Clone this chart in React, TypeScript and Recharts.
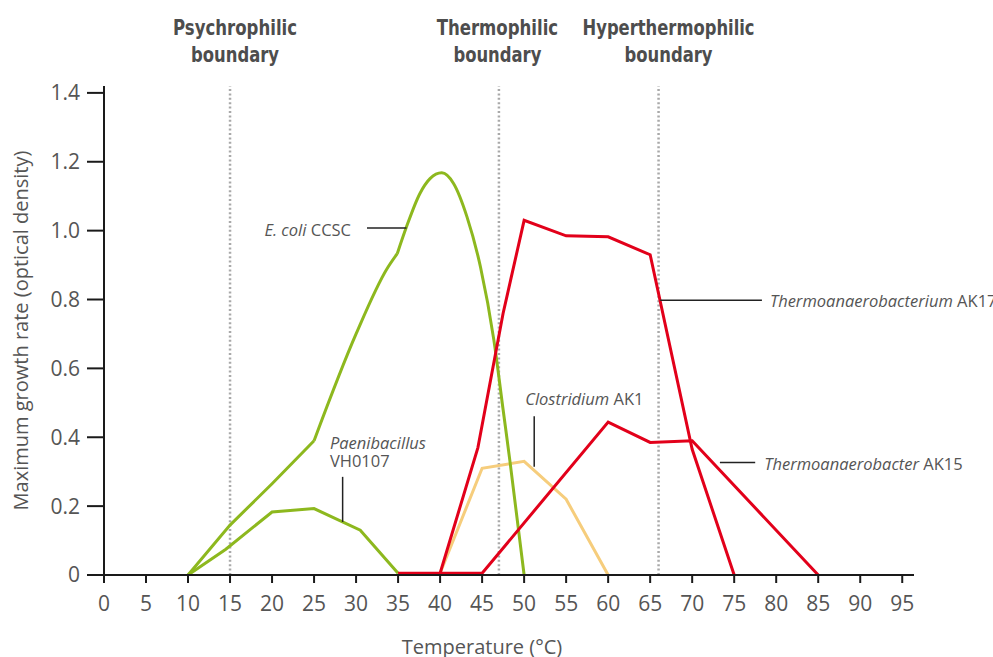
import React from 'react';
import { LineChart, Line, XAxis, YAxis, ReferenceLine, Label } from 'recharts';

// axis ticks
const tempTicks = [0, 5, 10, 15, 20, 25, 30, 35, 40, 45, 50, 55, 60, 65, 70, 75, 80, 85, 90, 95];
const rateTicks = [0, 0.2, 0.4, 0.6, 0.8, 1.0, 1.2, 1.4];

// series (temperature in °C, rate in optical density)
// E. coli is drawn in three pieces: straight rise, curved rise to the shoulder, smooth peak
const ecoliLowTemp = [10, 15, 20, 25];
const ecoliLowRate = [0, 0.145, 0.265, 0.39];
const ecoliMidTemp = [25, 30, 33.7, 34.9];
const ecoliMidRate = [0.39, 0.7, 0.89, 0.933];
const ecoliPeakTemp = [34.9, 36, 37.6, 38.8, 40.2, 41.6, 43.2, 44.8, 46.4, 47.5, 48.3, 50];
const ecoliPeakRate = [0.933, 1.011, 1.108, 1.151, 1.168, 1.137, 1.04, 0.895, 0.682, 0.48, 0.333, 0];

const paeniTemp = [10, 14.5, 20, 25, 30.5, 35];
const paeniRate = [0, 0.075, 0.183, 0.193, 0.13, 0.005];

const clostTemp = [40, 45, 50, 55, 60];
const clostRate = [0.005, 0.31, 0.33, 0.22, 0];

const ak17Temp = [35, 40, 44.5, 47.5, 50, 55, 60, 65, 70, 75];
const ak17Rate = [0.005, 0.005, 0.37, 0.76, 1.03, 0.985, 0.982, 0.93, 0.365, 0];

const ak15Temp = [40, 45, 60, 65, 70, 85];
const ak15Rate = [0.005, 0.005, 0.444, 0.385, 0.39, 0];

// boundary lines
const boundaryTemps = [15, 47, 66];
const boundaryNames = ['Psychrophilic', 'Thermophilic', 'Hyperthermophilic'];
const boundaryShift = [5, -1.5, 10];
const boundaryWidth = [124, 121.5, 172];

const GREEN = '#8db81e';
const RED = '#e2001a';
const SAND = '#f6cd7c';
const TEXT = '#555555';
const FONT = "'Open Sans', 'Noto Sans', sans-serif";
const HEAD_FONT = "'DejaVu Sans Condensed', 'DejaVu Sans', sans-serif";

const toPoints = (t: number[], r: number[]) => t.map((temp, i) => ({ temp, rate: r[i] }));

type Part = { t: string; i?: boolean };

// text attached to a leader line
const LeaderText = (props: any) => {
  const { viewBox, rows, anchor, dx, dy } = props;
  if (!viewBox) return null;
  const x0 = anchor === 'right' ? viewBox.x + viewBox.width : viewBox.x;
  return (
    <text
      x={x0 + dx}
      y={viewBox.y + dy}
      textAnchor={anchor === 'end' ? 'end' : 'start'}
      fontFamily={FONT}
      fontSize={16.5}
      fill={TEXT}
    >
      {rows.map((row: Part[], ri: number) => (
        <tspan key={ri} x={x0 + dx} dy={ri === 0 ? 0 : 18}>
          {row.map((p, pi) => (
            <tspan key={pi} fontStyle={p.i ? 'italic' : 'normal'}>
              {p.t}
            </tspan>
          ))}
        </tspan>
      ))}
    </text>
  );
};

const BoundaryLabel = (props: any) => {
  const { viewBox, name, shift, width } = props;
  if (!viewBox) return null;
  const cx = viewBox.x + shift;
  return (
    <text
      textAnchor="middle"
      fontFamily={HEAD_FONT}
      fontStretch="condensed"
      fontWeight="bold"
      fontSize={21.5}
      fill="#4d4d4d"
    >
      <tspan x={cx} y={viewBox.y - 51} textLength={width} lengthAdjust="spacingAndGlyphs">
        {name}
      </tspan>
      <tspan x={cx} y={viewBox.y - 24} textLength={88} lengthAdjust="spacingAndGlyphs">
        boundary
      </tspan>
    </text>
  );
};

const YTitle = (props: any) => {
  const { viewBox } = props;
  if (!viewBox) return null;
  const cx = 20;
  const cy = viewBox.y + viewBox.height / 2;
  return (
    <text
      x={cx}
      y={cy}
      transform={`rotate(-90 ${cx} ${cy})`}
      textAnchor="middle"
      dominantBaseline="central"
      fontFamily={FONT}
      fontSize={20}
      fill={TEXT}
    >
      Maximum growth rate (optical density)
    </text>
  );
};

const XTitle = (props: any) => {
  const { viewBox } = props;
  if (!viewBox) return null;
  return (
    <text
      x={viewBox.x + viewBox.width / 2 - 27}
      y={654}
      textAnchor="middle"
      fontFamily={FONT}
      fontSize={20}
      fill={TEXT}
    >
      Temperature (°C)
    </text>
  );
};

const lineProps = { type: 'linear' as const, strokeWidth: 3, dot: false, activeDot: false, isAnimationActive: false };

export default function App() {
  return (
    <div style={{ position: 'absolute', left: 0, top: 0, width: 993, height: 657, background: '#fff' }}>
      <LineChart width={993} height={657} margin={{ top: 86, right: 79, bottom: 0, left: 0 }}>
        <XAxis
          dataKey="temp"
          type="number"
          domain={[0, 96.4]}
          ticks={tempTicks}
          interval={0}
          height={82}
          axisLine={{ stroke: '#1a1a1a', strokeWidth: 2 }}
          tickLine={{ stroke: '#1a1a1a', strokeWidth: 2 }}
          tickSize={8}
          tickMargin={13}
          tick={{ fill: TEXT, fontSize: 21, fontFamily: FONT }}
        >
          <Label content={<XTitle />} />
        </XAxis>
        <YAxis
          type="number"
          domain={[0, 1.42]}
          ticks={rateTicks}
          interval={0}
          width={104}
          axisLine={{ stroke: '#1a1a1a', strokeWidth: 2 }}
          tickLine={{ stroke: '#1a1a1a', strokeWidth: 2 }}
          tickSize={17}
          tickMargin={7}
          tick={{ fill: TEXT, fontSize: 21, fontFamily: FONT }}
          tickFormatter={(v: number) => (v === 0 ? '0' : v.toFixed(1))}
        >
          <Label content={<YTitle />} />
        </YAxis>

        {boundaryTemps.map((t, i) => (
          <ReferenceLine
            key={t}
            x={t}
            stroke="#a9a9a9"
            strokeWidth={2.5}
            strokeDasharray="2 2.4"
            label={<BoundaryLabel name={boundaryNames[i]} shift={boundaryShift[i]} width={boundaryWidth[i]} />}
          />
        ))}

        <Line data={toPoints(clostTemp, clostRate)} dataKey="rate" {...lineProps} stroke={SAND} />
        <Line data={toPoints(ecoliLowTemp, ecoliLowRate)} dataKey="rate" {...lineProps} stroke={GREEN} />
        <Line data={toPoints(ecoliMidTemp, ecoliMidRate)} dataKey="rate" {...lineProps} type="monotone" stroke={GREEN} />
        <Line data={toPoints(ecoliPeakTemp, ecoliPeakRate)} dataKey="rate" {...lineProps} type="monotone" stroke={GREEN} />
        <Line data={toPoints(paeniTemp, paeniRate)} dataKey="rate" {...lineProps} stroke={GREEN} />
        <Line data={toPoints(ak15Temp, ak15Rate)} dataKey="rate" {...lineProps} stroke={RED} />
        <Line data={toPoints(ak17Temp, ak17Rate)} dataKey="rate" {...lineProps} stroke={RED} />

        {/* leader lines with their labels */}
        <ReferenceLine
          segment={[{ x: 31.3, y: 1.008 }, { x: 36, y: 1.008 }]}
          stroke="#222"
          strokeWidth={1.5}
          label={<LeaderText rows={[[{ t: 'E. coli', i: true }, { t: ' CCSC' }]]} anchor="end" dx={-16} dy={8} />}
        />
        <ReferenceLine
          segment={[{ x: 28.4, y: 0.285 }, { x: 28.4, y: 0.154 }]}
          stroke="#222"
          strokeWidth={1.5}
          label={<LeaderText rows={[[{ t: 'Paenibacillus', i: true }], [{ t: 'VH0107' }]]} anchor="start" dx={-12.7} dy={-28} />}
        />
        <ReferenceLine
          segment={[{ x: 51.2, y: 0.461 }, { x: 51.2, y: 0.314 }]}
          stroke="#222"
          strokeWidth={1.5}
          label={<LeaderText rows={[[{ t: 'Clostridium', i: true }, { t: ' AK1' }]]} anchor="start" dx={-9} dy={-11} />}
        />
        <ReferenceLine
          segment={[{ x: 66.2, y: 0.798 }, { x: 78.3, y: 0.798 }]}
          stroke="#222"
          strokeWidth={1.5}
          label={<LeaderText rows={[[{ t: 'Thermoanaerobacterium', i: true }, { t: ' AK17' }]]} anchor="right" dx={8} dy={7} />}
        />
        <ReferenceLine
          segment={[{ x: 73.3, y: 0.3265 }, { x: 77.5, y: 0.3265 }]}
          stroke="#222"
          strokeWidth={1.5}
          label={<LeaderText rows={[[{ t: 'Thermoanaerobacter', i: true }, { t: ' AK15' }]]} anchor="right" dx={9} dy={7} />}
        />
      </LineChart>
    </div>
  );
}
